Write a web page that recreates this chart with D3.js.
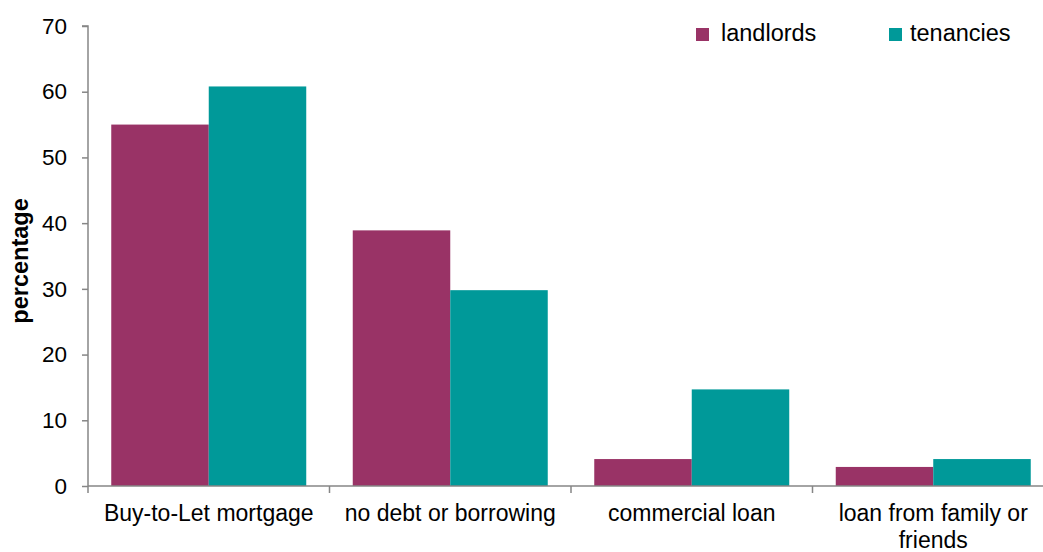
<!DOCTYPE html>
<html>
<head>
<meta charset="utf-8">
<script src="https://cdn.jsdelivr.net/npm/d3@7"></script>
<style>
  html, body { margin: 0; padding: 0; background: #ffffff; }
  svg { display: block; }
  text { font-family: "Liberation Sans", Arial, sans-serif; fill: #000; }
</style>
</head>
<body>
<svg id="chart" width="1043" height="552"></svg>
<script>
// Source of finance for rental properties (percentage)
const categories = ["Buy-to-Let mortgage", "no debt or borrowing", "commercial loan", "loan from family or friends"];
const seriesNames = ["landlords", "tenancies"];
const landlords = [55.0, 38.9, 4.1, 2.9];
const tenancies = [60.8, 29.8, 14.7, 4.1];
const yTicks = [0, 10, 20, 30, 40, 50, 60, 70];
const colors = ["#993366", "#009999"];

const svg = d3.select("#chart");
const fontSize = 23.5;
const catFontSize = 23;
const tickFontSize = 22.5;

const x0 = 88, x1 = 1054;     // category axis extent (runs past the right edge)
const yTop = 26, yBottom = 486;

const x = d3.scaleBand().domain(categories).range([x0, x1]).paddingInner(0).paddingOuter(0);
const xSub = d3.scaleBand().domain(seriesNames).range([0, x.bandwidth()])
  .paddingInner(0).paddingOuter(0.2385);
const y = d3.scaleLinear().domain([0, 70]).range([yBottom, yTop]);
const color = d3.scaleOrdinal().domain(seriesNames).range(colors);

const rows = categories.map((c, i) => ({
  category: c,
  values: [
    { key: "landlords", value: landlords[i] },
    { key: "tenancies", value: tenancies[i] }
  ]
}));

// Bars
const groups = svg.append("g").selectAll("g")
  .data(rows).join("g")
  .attr("transform", d => `translate(${x(d.category)},0)`);
groups.selectAll("rect")
  .data(d => d.values).join("rect")
  .attr("x", d => xSub(d.key))
  .attr("y", d => y(d.value))
  .attr("width", xSub.bandwidth())
  .attr("height", d => y(0) - y(d.value))
  .attr("fill", d => color(d.key));

const axisColor = "#868686";

// Y axis
const yAxis = svg.append("g")
  .attr("transform", `translate(${x0},0)`)
  .call(d3.axisLeft(y).tickValues(yTicks).tickSize(6).tickPadding(15).tickFormat(d3.format("d")));
yAxis.select(".domain").attr("stroke", axisColor).attr("stroke-width", 1.5)
  .attr("d", `M-6,${yTop}H0V${yBottom}`);
yAxis.selectAll(".tick line").attr("stroke", axisColor).attr("stroke-width", 1.5);
yAxis.selectAll(".tick text").style("font-size", tickFontSize + "px").attr("fill", "#000");

// X axis: ticks at category boundaries
const xAxisG = svg.append("g").attr("transform", `translate(0,${yBottom})`);
xAxisG.append("line")
  .attr("x1", x0).attr("x2", x1).attr("y1", 0).attr("y2", 0)
  .attr("stroke", axisColor).attr("stroke-width", 1.5);
const boundaries = categories.map(c => x(c)).concat([x1]);
xAxisG.selectAll("line.tk").data(boundaries).join("line")
  .attr("class", "tk")
  .attr("x1", d => d).attr("x2", d => d)
  .attr("y1", 0).attr("y2", 7)
  .attr("stroke", axisColor).attr("stroke-width", 1.5);

// Category labels, wrapped to the band width
const labels = xAxisG.selectAll("text.cat").data(categories).join("text")
  .attr("class", "cat")
  .attr("text-anchor", "middle")
  .style("font-size", catFontSize + "px")
  .attr("x", d => x(d) + x.bandwidth() / 2)
  .attr("y", 35);

labels.each(function(d) {
  const t = d3.select(this);
  const words = d.split(" ");
  const maxW = x.bandwidth() - 4;
  let line = [];
  let tspan = t.append("tspan").attr("x", t.attr("x")).attr("dy", 0);
  words.forEach(w => {
    line.push(w);
    tspan.text(line.join(" "));
    if (tspan.node().getComputedTextLength() > maxW && line.length > 1) {
      line.pop();
      tspan.text(line.join(" "));
      line = [w];
      tspan = t.append("tspan").attr("x", t.attr("x")).attr("dy", 26.5).text(w);
    }
  });
});

// Y axis title
svg.append("text")
  .attr("transform", `translate(28,${(yTop + yBottom) / 2 + 5}) rotate(-90)`)
  .attr("text-anchor", "middle")
  .style("font-size", fontSize + "px")
  .style("font-weight", "bold")
  .text("percentage");

// Legend
const legendPos = [696, 889];
const legend = svg.append("g").selectAll("g").data(seriesNames).join("g")
  .attr("transform", (d, i) => `translate(${legendPos[i]},0)`);
legend.append("rect")
  .attr("x", 0).attr("y", 28).attr("width", 13).attr("height", 13)
  .attr("fill", d => color(d));
legend.append("text")
  .attr("x", (d, i) => i === 0 ? 25 : 21).attr("y", 41)
  .style("font-size", fontSize + "px")
  .text(d => d);
</script>
</body>
</html>
